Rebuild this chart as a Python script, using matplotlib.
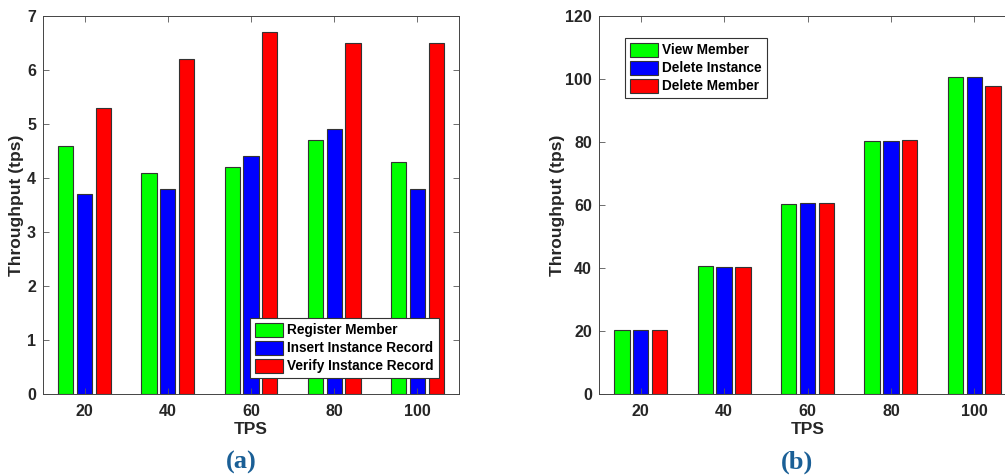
import numpy as np
import matplotlib
matplotlib.use("Agg")
import matplotlib.pyplot as plt

plt.rcParams['font.family'] = ['Liberation Sans', 'DejaVu Sans']
plt.rcParams['font.weight'] = 'bold'

tps = ['20', '40', '60', '80', '100']

# (a)
register_member = [4.6, 4.1, 4.2, 4.7, 4.3]
insert_record = [3.7, 3.8, 4.4, 4.9, 3.8]
verify_record = [5.3, 6.2, 6.7, 6.5, 6.5]
labels_a = ['Register Member', 'Insert Instance Record', 'Verify Instance Record']

# (b)
view_member = [20.2, 40.5, 60.3, 80.4, 100.5]
delete_instance = [20.2, 40.4, 60.7, 80.4, 100.5]
delete_member = [20.4, 40.4, 60.6, 80.6, 97.7]
labels_b = ['View Member', 'Delete Instance', 'Delete Member']

colors = ['#00ff00', '#0000ff', '#ff0000']
W, H = 1005, 476
txt = '#262626'

fig = plt.figure(figsize=(W / 100, H / 100), dpi=100)


def px_axes(x0, y0, x1, y1):
    return fig.add_axes([x0 / W, 1 - y1 / H, (x1 - x0) / W, (y1 - y0) / H])


def draw(ax, series, labels, ylim, yticks, ylabelpad):
    x = np.arange(1, len(tps) + 1)
    offsets = [-0.226, 0, 0.226]
    handles = []
    for s, off, c, lab in zip(series, offsets, colors, labels):
        h = ax.bar(x + off, s, width=0.184, color=c, edgecolor='#333333',
                   linewidth=0.8, label=lab)
        handles.append(h)
    ax.set_xlim(0.5, 5.5)
    ax.set_ylim(*ylim)
    ax.set_xticks(x)
    ax.set_xticklabels(tps)
    ax.set_yticks(yticks)
    ax.tick_params(direction='in', top=True, right=True, length=4,
                   width=0.6, colors='#555555', labelcolor=txt, labelsize=11.5)
    ax.tick_params(axis='x', pad=7)
    ax.tick_params(axis='y', pad=5)
    for sp in ax.spines.values():
        sp.set_color('#444444')
        sp.set_linewidth(0.7)
    ax.set_xlabel('TPS', fontsize=12.5, fontweight='bold', color=txt, labelpad=2)
    ax.set_ylabel('Throughput (tps)', fontsize=12.5, fontweight='bold', color=txt,
                  labelpad=ylabelpad)
    return handles


ax1 = px_axes(43, 16, 459, 394)
h1 = draw(ax1, [register_member, insert_record, verify_record], labels_a, (0, 7),
          range(0, 8), 2)
leg1 = ax1.legend(handles=h1, loc='upper left', bbox_to_anchor=(250 / W, 1 - 318 / H),
                  bbox_transform=fig.transFigure, borderaxespad=0, fancybox=False,
                  edgecolor='#333333', framealpha=1, fontsize=9.8, handlelength=2.1,
                  handleheight=1.2, handletextpad=0.3, labelspacing=0.25,
                  borderpad=0.35)
leg1.get_frame().set_linewidth(0.8)

ax2 = px_axes(599, 16, 1016, 394)
h2 = draw(ax2, [view_member, delete_instance, delete_member], labels_b, (0, 120),
          range(0, 121, 20), 0)
leg2 = ax2.legend(handles=h2, loc='upper left', bbox_to_anchor=(625 / W, 1 - 38 / H),
                  bbox_transform=fig.transFigure, borderaxespad=0, fancybox=False,
                  edgecolor='#333333', framealpha=1, fontsize=9.8, handlelength=2.1,
                  handleheight=1.2, handletextpad=0.3, labelspacing=0.25,
                  borderpad=0.35)
leg2.get_frame().set_linewidth(0.8)

for xc, t in [(241, '(a)'), (797, '(b)')]:
    fig.text(xc / W, 1 - 462 / H, t, ha='center', va='center', fontsize=19,
             fontweight='bold', color='#1a5f96',
             family=['Liberation Serif', 'DejaVu Serif'])

fig.savefig('out.png', dpi=100)
